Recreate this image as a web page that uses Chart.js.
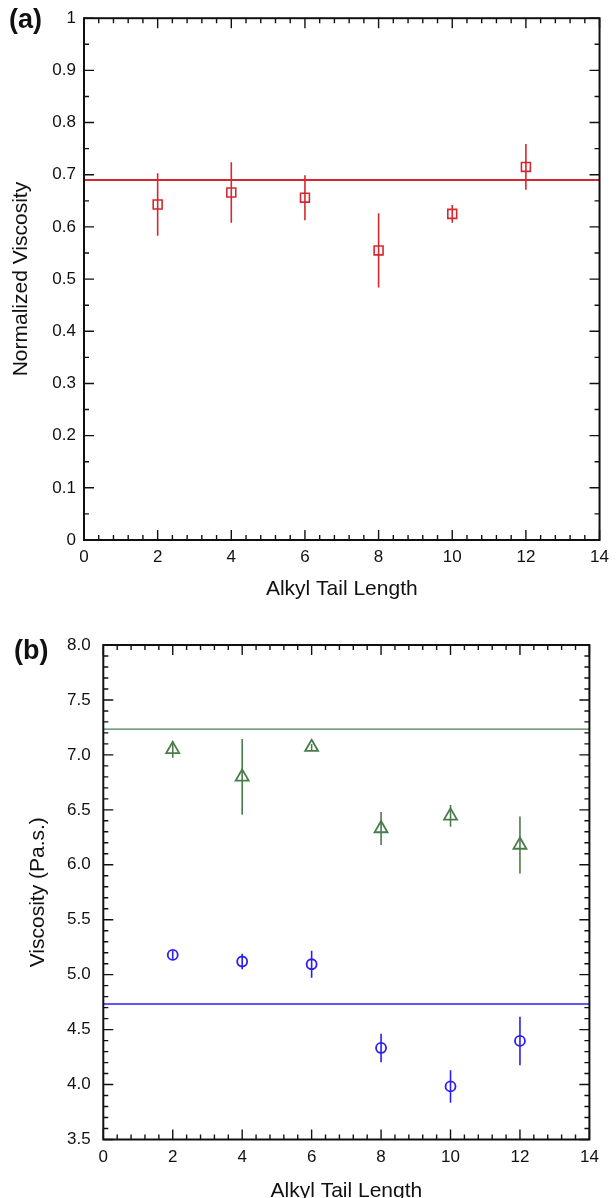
<!DOCTYPE html>
<html>
<head>
<meta charset="utf-8">
<script src="https://cdn.jsdelivr.net/npm/chart.js@4"></script>
<style>
  body { margin: 0; background: #fff; }
  #wrap { position: relative; width: 616px; height: 1198px; font-family: "Liberation Sans", Arial, sans-serif; }
  canvas { position: absolute; left: 0; }
  .tag { position: absolute; font-weight: bold; font-size: 27px; line-height: 27px; color: #111; }
</style>
</head>
<body>
<div id="wrap">
  <canvas id="chart-a" width="616" height="610" style="top:0"></canvas>
  <canvas id="chart-b" width="616" height="588" style="top:610px"></canvas>
  <div class="tag" style="left:9px;top:6px">(a)</div>
  <div class="tag" style="left:14px;top:637px">(b)</div>
</div>
<script>
// ================== DADOS ==================
const tailLength   = [2, 4, 6, 8, 10, 12];
const xTickLabels  = [0, 2, 4, 6, 8, 10, 12, 14];

// (a) viscosidade normalizada
const normVisc     = [0.643, 0.666, 0.656, 0.555, 0.625, 0.715];
const normViscErr  = [0.060, 0.058, 0.043, 0.071, 0.017, 0.044];
const normViscRef  = 0.690;
const yTickLabelsA = [0, 0.1, 0.2, 0.3, 0.4, 0.5, 0.6, 0.7, 0.8, 0.9, 1];

// (b) viscosidade (Pa.s.)
const viscTri      = [7.05, 6.80, 7.07, 6.33, 6.445, 6.18];
const viscTriErr   = [0.075, 0.345, 0.03, 0.15, 0.10, 0.26];
const viscTriRef   = 7.234;
const viscCirc     = [5.18, 5.12, 5.095, 4.333, 3.983, 4.397];
const viscCircErr  = [0.035, 0.07, 0.122, 0.13, 0.148, 0.221];
const viscCircRef  = 4.733;
const yTickLabelsB = [3.5, 4.0, 4.5, 5.0, 5.5, 6.0, 6.5, 7.0, 7.5, 8.0];

const RED = "#d6262e", GREEN = "#4a7d4a", BLUE = "#2a1ff0", INK = "#111";
const FONT = "'Liberation Sans', Arial, sans-serif";

// ================== UTIL ==================
function isIn(list, v) { return list.some(t => Math.abs(t - v) < 1e-9); }

function errorBarData(xs, ys, errs) {
  const pts = [];
  xs.forEach((x, i) => {
    pts.push({ x, y: ys[i] - errs[i] }, { x, y: ys[i] + errs[i] }, { x, y: null });
  });
  return pts;
}
function refLineData(v) { return [{ x: xTickLabels[0], y: v }, { x: xTickLabels[xTickLabels.length - 1], y: v }]; }
function markerData(xs, ys) { return xs.map((x, i) => ({ x, y: ys[i] })); }

// moldura + ticks para dentro nos 4 lados
const frameTicks = {
  id: "frameTicks",
  afterDraw(chart) {
    const { ctx, chartArea: a, scales } = chart;
    ctx.save();
    ctx.strokeStyle = INK;
    ctx.lineWidth = 1.4;
    ctx.beginPath();
    scales.x.ticks.forEach(t => {
      const px = scales.x.getPixelForValue(t.value);
      const len = t.label !== "" ? 10 : 5;
      ctx.moveTo(px, a.bottom); ctx.lineTo(px, a.bottom - len);
      ctx.moveTo(px, a.top);    ctx.lineTo(px, a.top + len);
    });
    scales.y.ticks.forEach(t => {
      const py = scales.y.getPixelForValue(t.value);
      const len = t.label !== "" ? 10 : 5;
      ctx.moveTo(a.left, py);  ctx.lineTo(a.left + len, py);
      ctx.moveTo(a.right, py); ctx.lineTo(a.right - len, py);
    });
    ctx.stroke();
    ctx.lineWidth = 2;
    ctx.strokeRect(a.left, a.top, a.right - a.left, a.bottom - a.top);
    ctx.restore();
  }
};

function xScale(h, labelPad, titlePadBottom) {
  return {
    type: "linear", min: 0, max: 14,
    afterFit: s => { s.height = h; },
    grid: { display: false, drawTicks: false }, border: { display: false },
    ticks: {
      stepSize: 0.4, autoSkip: false, maxRotation: 0, padding: labelPad,
      color: INK, font: { family: FONT, size: 17 },
      callback: v => isIn(xTickLabels, v) ? String(Math.round(v)) : ""
    },
    title: { display: true, text: "Alkyl Tail Length", color: INK,
             font: { family: FONT, size: 21 }, padding: { top: 0, bottom: titlePadBottom } }
  };
}

function yScale(min, max, step, labels, fmt, w, labelPad, title, titlePadTop) {
  return {
    type: "linear", min, max,
    afterFit: s => { s.width = w; },
    grid: { display: false, drawTicks: false }, border: { display: false },
    ticks: {
      stepSize: step, autoSkip: false, padding: labelPad,
      color: INK, font: { family: FONT, size: 17 },
      callback: v => isIn(labels, v) ? fmt(v) : ""
    },
    title: { display: true, text: title, color: INK,
             font: { family: FONT, size: 21 }, padding: { top: titlePadTop, bottom: 0 } }
  };
}

function baseOptions(padding, scales) {
  return {
    responsive: false, animation: false,
    layout: { padding },
    plugins: { legend: { display: false }, tooltip: { enabled: false } },
    scales
  };
}

// ================== (a) ==================
new Chart(document.getElementById("chart-a"), {
  type: "scatter",
  data: { datasets: [
    { data: refLineData(normViscRef), showLine: true, borderColor: RED, borderWidth: 2, pointRadius: 0 },
    { data: errorBarData(tailLength, normVisc, normViscErr), showLine: true, spanGaps: false,
      borderColor: RED, borderWidth: 1.6, pointRadius: 0 },
    { data: markerData(tailLength, normVisc), pointStyle: "rect", pointRadius: 6.3,
      borderColor: RED, backgroundColor: "rgba(0,0,0,0)", pointBorderWidth: 1.6 }
  ]},
  options: baseOptions({ left: 0, right: 10, top: 18, bottom: 0 }, {
    x: xScale(70, 7, 8),
    y: yScale(0, 1, 0.05, yTickLabelsA, v => String(+v.toFixed(1)), 84, 8, "Normalized Viscosity", 9)
  }),
  plugins: [frameTicks]
});

// ================== (b) ==================
new Chart(document.getElementById("chart-b"), {
  type: "scatter",
  data: { datasets: [
    { data: refLineData(viscTriRef), showLine: true, borderColor: GREEN, borderWidth: 1.3, pointRadius: 0 },
    { data: refLineData(viscCircRef), showLine: true, borderColor: BLUE, borderWidth: 1.5, pointRadius: 0 },
    { data: errorBarData(tailLength, viscTri, viscTriErr), showLine: true, spanGaps: false,
      borderColor: GREEN, borderWidth: 1.6, pointRadius: 0 },
    { data: errorBarData(tailLength, viscCirc, viscCircErr), showLine: true, spanGaps: false,
      borderColor: BLUE, borderWidth: 1.6, pointRadius: 0 },
    { data: markerData(tailLength, viscTri), pointStyle: "triangle", pointRadius: 7.5,
      borderColor: GREEN, backgroundColor: "rgba(0,0,0,0)", pointBorderWidth: 1.8 },
    { data: markerData(tailLength, viscCirc), pointStyle: "circle", pointRadius: 5,
      borderColor: BLUE, backgroundColor: "rgba(0,0,0,0)", pointBorderWidth: 1.8 }
  ]},
  options: baseOptions({ left: 0, right: 26.6, top: 35, bottom: 0 }, {
    x: xScale(58.5, 8, -6),
    y: yScale(3.5, 8, 0.1, yTickLabelsB, v => v.toFixed(1), 103.3, 12.6, "Viscosity (Pa.s.)", 25.4)
  }),
  plugins: [frameTicks]
});
</script>
</body>
</html>
